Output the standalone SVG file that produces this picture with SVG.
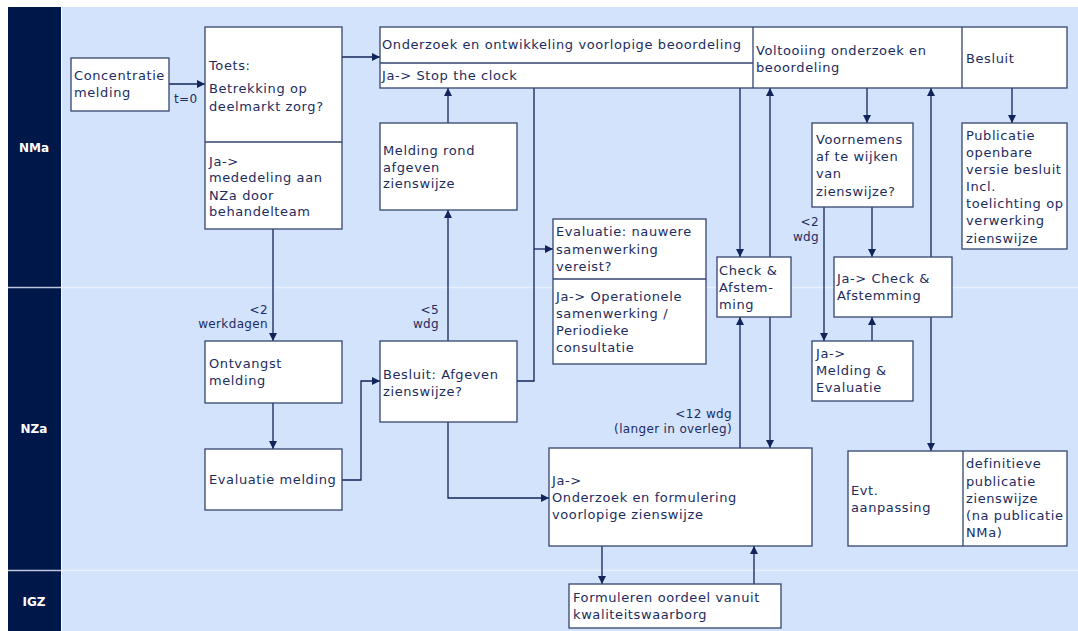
<svg xmlns="http://www.w3.org/2000/svg" width="1078" height="631" viewBox="0 0 1078 631">
<style>
.lane{fill:#d3e3fc}
.band{fill:#00174a}
.sep{stroke:#eef4ff;stroke-width:1.5;opacity:0.8}
.lbl{fill:#ffffff;font-family:"DejaVu Sans",Verdana,sans-serif;font-size:12px;font-weight:bold;text-anchor:middle}
.box{fill:#ffffff;stroke:#34456f;stroke-width:1.3}
.div{stroke:#34456f;stroke-width:1.3}
.t{fill:#1c2c60;font-family:"DejaVu Sans",Verdana,sans-serif;font-size:13px;letter-spacing:0.6px}
.l{fill:#1c2c60;font-family:"DejaVu Sans",Verdana,sans-serif;font-size:12px;letter-spacing:0.35px}
.e{text-anchor:end}
.c{fill:none;stroke:#12245a;stroke-width:1.3}
.a{marker-end:url(#ah)}
</style>
<defs>
<marker id="ah" markerUnits="userSpaceOnUse" markerWidth="9" markerHeight="8" refX="8" refY="4" orient="auto">
<path d="M0,0 L8,4 L0,8 Z" fill="#12245a"/>
</marker>
</defs>
<rect x="0" y="0" width="1078" height="631" fill="#ffffff"/>
<rect class="lane" x="62" y="7" width="1016" height="624"/>
<rect class="band" x="8" y="7" width="53" height="624"/>
<line class="sep" x1="8" y1="287.5" x2="1078" y2="287.5"/>
<line class="sep" x1="8" y1="570.5" x2="1078" y2="570.5"/>
<g id="lanes">
<text class="lbl" x="34" y="152">NMa</text>
<text class="lbl" x="34" y="433">NZa</text>
<text class="lbl" x="34" y="606">IGZ</text>
</g>
<g id="connectors">
<path class="c a" d="M169,84 H205"/>
<path class="c a" d="M342,57 H380"/>
<path class="c a" d="M273,229 V341"/>
<path class="c a" d="M273,403 V449"/>
<path class="c a" d="M342,480 H361 V381 H380"/>
<path class="c a" d="M448,341 V210"/>
<path class="c a" d="M448,123 V88"/>
<path class="c" d="M517,381 H534 V88"/>
<path class="c a" d="M534,249 H553"/>
<path class="c a" d="M448,422 V498 H549"/>
<path class="c a" d="M740,88 V257"/>
<path class="c a" d="M740,448 V317"/>
<path class="c a" d="M770,257 V88"/>
<path class="c a" d="M770,317 V448"/>
<path class="c a" d="M867,88 V123"/>
<path class="c a" d="M872,207 V257"/>
<path class="c a" d="M824,207 V341"/>
<path class="c a" d="M872,341 V317"/>
<path class="c a" d="M931,257 V88"/>
<path class="c a" d="M931,317 V451"/>
<path class="c a" d="M1012,88 V123"/>
<path class="c a" d="M602,546 V584"/>
<path class="c a" d="M754,584 V546"/>
<text class="l" x="174" y="103">t=0</text>
<text class="l e" x="268" y="314">&lt;2</text>
<text class="l e" x="268" y="328">werkdagen</text>
<text class="l e" x="439" y="314">&lt;5</text>
<text class="l e" x="439" y="328">wdg</text>
<text class="l e" x="732" y="418">&lt;12 wdg</text>
<text class="l e" x="732" y="433">(langer in overleg)</text>
<text class="l e" x="819" y="226">&lt;2</text>
<text class="l e" x="819" y="241">wdg</text>
</g>
<g id="n-concentratie">
<rect class="box" x="71" y="58" width="98" height="53"/>
<text class="t" x="74" y="80">Concentratie</text>
<text class="t" x="74" y="97">melding</text>
</g>
<g id="n-toets">
<rect class="box" x="205" y="27" width="137" height="202"/>
<line class="div" x1="205" y1="142" x2="342" y2="142"/>
<text class="t" x="209" y="70">Toets:</text>
<text class="t" x="209" y="93">Betrekking op</text>
<text class="t" x="209" y="111">deelmarkt zorg?</text>
<text class="t" x="209" y="166">Ja-&gt;</text>
<text class="t" x="209" y="182">mededeling aan</text>
<text class="t" x="209" y="200">NZa door</text>
<text class="t" x="209" y="216">behandelteam</text>
</g>
<g id="n-onderzoek">
<rect class="box" x="380" y="27" width="687" height="61"/>
<line class="div" x1="380" y1="63" x2="753" y2="63"/>
<line class="div" x1="753" y1="27" x2="753" y2="88"/>
<line class="div" x1="962" y1="27" x2="962" y2="88"/>
<text class="t" x="382" y="49">Onderzoek en ontwikkeling voorlopige beoordeling</text>
<text class="t" x="382" y="80">Ja-&gt; Stop the clock</text>
<text class="t" x="756" y="55">Voltooiing onderzoek en</text>
<text class="t" x="756" y="72">beoordeling</text>
<text class="t" x="966" y="63">Besluit</text>
</g>
<g id="n-melding-rond">
<rect class="box" x="380" y="123" width="137" height="87"/>
<text class="t" x="383" y="155">Melding rond</text>
<text class="t" x="383" y="172">afgeven</text>
<text class="t" x="383" y="188">zienswijze</text>
</g>
<g id="n-evaluatie-nauwere">
<rect class="box" x="553" y="219" width="153" height="145"/>
<line class="div" x1="553" y1="279" x2="706" y2="279"/>
<text class="t" x="556" y="236">Evaluatie: nauwere</text>
<text class="t" x="556" y="254">samenwerking</text>
<text class="t" x="556" y="271">vereist?</text>
<text class="t" x="556" y="301">Ja-&gt; Operationele</text>
<text class="t" x="556" y="318">samenwerking /</text>
<text class="t" x="556" y="335">Periodieke</text>
<text class="t" x="556" y="352">consultatie</text>
</g>
<g id="n-check">
<rect class="box" x="717" y="257" width="74" height="60"/>
<text class="t" x="719" y="275">Check &amp;</text>
<text class="t" x="719" y="292">Afstem-</text>
<text class="t" x="719" y="309">ming</text>
</g>
<g id="n-voornemens">
<rect class="box" x="812" y="123" width="101" height="84"/>
<text class="t" x="816" y="144">Voornemens</text>
<text class="t" x="816" y="161">af te wijken</text>
<text class="t" x="816" y="178">van</text>
<text class="t" x="816" y="196">zienswijze?</text>
</g>
<g id="n-ja-check">
<rect class="box" x="834" y="257" width="118" height="60"/>
<text class="t" x="837" y="283">Ja-&gt; Check &amp;</text>
<text class="t" x="837" y="300">Afstemming</text>
</g>
<g id="n-ja-melding">
<rect class="box" x="812" y="341" width="101" height="60"/>
<text class="t" x="816" y="358">Ja-&gt;</text>
<text class="t" x="816" y="375">Melding &amp;</text>
<text class="t" x="816" y="392">Evaluatie</text>
</g>
<g id="n-publicatie">
<rect class="box" x="962" y="123" width="105" height="126"/>
<text class="t" x="966" y="140">Publicatie</text>
<text class="t" x="966" y="157">openbare</text>
<text class="t" x="966" y="174">versie besluit</text>
<text class="t" x="966" y="191">Incl.</text>
<text class="t" x="966" y="208">toelichting op</text>
<text class="t" x="966" y="225">verwerking</text>
<text class="t" x="966" y="243">zienswijze</text>
</g>
<g id="n-evt">
<rect class="box" x="848" y="451" width="219" height="95"/>
<line class="div" x1="963" y1="451" x2="963" y2="546"/>
<text class="t" x="851" y="495">Evt.</text>
<text class="t" x="851" y="512">aanpassing</text>
<text class="t" x="966" y="468">definitieve</text>
<text class="t" x="966" y="486">publicatie</text>
<text class="t" x="966" y="503">zienswijze</text>
<text class="t" x="966" y="520">(na publicatie</text>
<text class="t" x="966" y="537">NMa)</text>
</g>
<g id="n-ontvangst">
<rect class="box" x="205" y="341" width="137" height="62"/>
<text class="t" x="209" y="368">Ontvangst</text>
<text class="t" x="209" y="385">melding</text>
</g>
<g id="n-evaluatie-melding">
<rect class="box" x="205" y="449" width="137" height="61"/>
<text class="t" x="209" y="484">Evaluatie melding</text>
</g>
<g id="n-besluit-afgeven">
<rect class="box" x="380" y="341" width="137" height="81"/>
<text class="t" x="383" y="379">Besluit: Afgeven</text>
<text class="t" x="383" y="396">zienswijze?</text>
</g>
<g id="n-formulering">
<rect class="box" x="549" y="448" width="263" height="98"/>
<text class="t" x="552" y="485">Ja-&gt;</text>
<text class="t" x="552" y="502">Onderzoek en formulering</text>
<text class="t" x="552" y="519">voorlopige zienswijze</text>
</g>
<g id="n-formuleren-oordeel">
<rect class="box" x="569" y="584" width="212" height="44"/>
<text class="t" x="573" y="602">Formuleren oordeel vanuit</text>
<text class="t" x="573" y="619">kwaliteitswaarborg</text>
</g>
</svg>
